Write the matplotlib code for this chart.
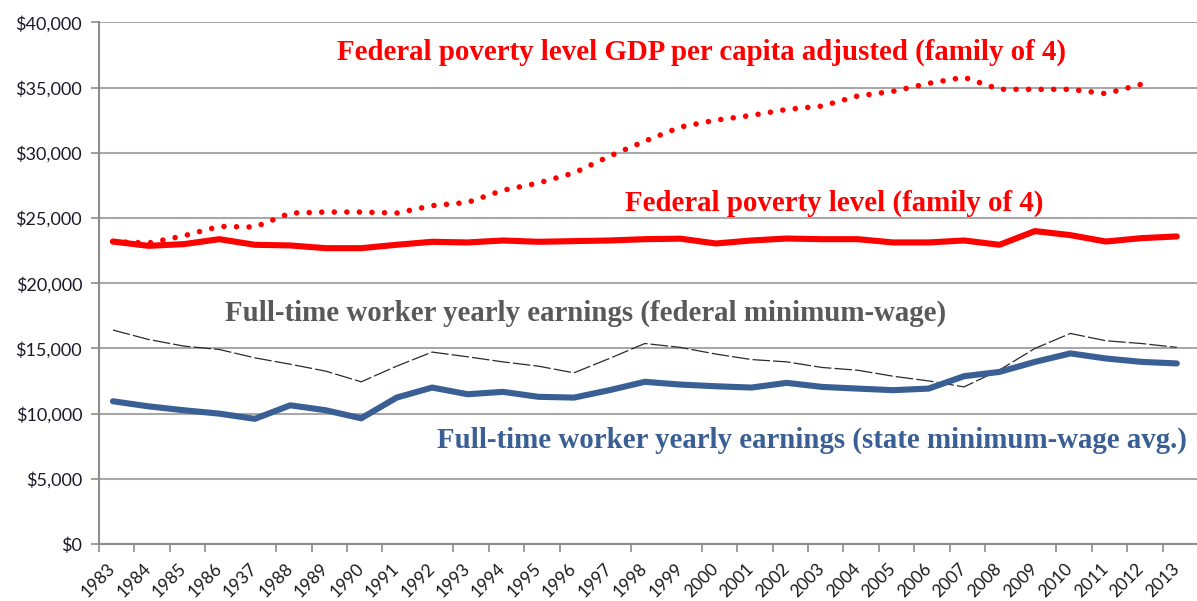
import matplotlib
matplotlib.use('Agg')
import matplotlib.pyplot as plt
from matplotlib.ticker import FuncFormatter, MultipleLocator

years = list(range(1983, 2014))
year_labels = [str(y) for y in years]
year_labels[4] = '1937'  # typo kept from the original chart
years_without_tick = [1987, 1992, 1997, 1999, 2009]

# Federal poverty level (family of 4)
poverty_level = [23200, 22870, 23000, 23380, 22950, 22900, 22690, 22690, 22950, 23180,
                 23130, 23280, 23180, 23230, 23280, 23380, 23420, 23050, 23280, 23430,
                 23380, 23380, 23130, 23130, 23280, 22950, 24000, 23690, 23200, 23460,
                 23590]

# Federal poverty level GDP per capita adjusted (1983-2012)
poverty_gdp_adjusted = [23200, 23080, 23640, 24360, 24310, 25380, 25460, 25460, 25380, 25950,
                        26200, 27130, 27690, 28460, 29740, 30900, 31980, 32510, 32870, 33330,
                        33590, 34360, 34720, 35330, 35800, 34870, 34870, 34870, 34540, 35260]

# Full-time worker yearly earnings, federal minimum wage
federal_min_wage = [16410, 15690, 15180, 14920, 14280, 13790, 13260, 12440, 13640, 14720,
                    14360, 13970, 13640, 13130, 14230, 15380, 15080, 14570, 14150, 13970,
                    13540, 13330, 12870, 12510, 12050, 13350, 15000, 16150, 15590, 15380,
                    15080]

# Full-time worker yearly earnings, state minimum wage average
state_min_wage = [10950, 10560, 10260, 10000, 9600, 10640, 10260, 9640, 11230, 12000,
                  11490, 11670, 11290, 11230, 11800, 12440, 12230, 12100, 12000, 12360,
                  12050, 11920, 11800, 11920, 12870, 13200, 13970, 14620, 14230, 13970,
                  13850]

RED = '#FF0000'
BLUE = '#3A5F95'
GRAY_TEXT = '#595959'
TICK_OFFSET = 0.4

fig = plt.figure(figsize=(11.97, 6.01), dpi=100)
ax = fig.add_axes([0.0825, 0.0948, 0.9175, 0.8678])

ax.plot(years[:len(poverty_gdp_adjusted)], poverty_gdp_adjusted, color=RED, lw=4,
        linestyle=(0, (0.01, 2.25)), dash_capstyle='round', zorder=4)
ax.plot(years, poverty_level, color=RED, lw=4.4, solid_capstyle='round',
        solid_joinstyle='round', zorder=4)
ax.plot(years, federal_min_wage, color='#2b2b2b', lw=0.9,
        linestyle=(0, (14, 2.5)), zorder=3)
ax.plot(years, state_min_wage, color=BLUE, lw=4.4, solid_capstyle='round',
        solid_joinstyle='round', zorder=4)

ax.set_ylim(0, 40000)
ax.set_xlim(years[0] - TICK_OFFSET, years[-1] + 0.57)
ax.yaxis.set_major_locator(MultipleLocator(5000))
ax.yaxis.set_major_formatter(FuncFormatter(lambda v, p: '${:,.0f}'.format(v)))
ax.set_xticks([y - TICK_OFFSET for y in years])
ax.set_xticklabels(year_labels, rotation=45, ha='center', va='top')

ax.grid(axis='y', color='#A8A8A8', lw=1.5)
ax.set_axisbelow(True)
for side in ['top', 'right']:
    ax.spines[side].set_visible(False)
for side in ['left', 'bottom']:
    ax.spines[side].set_color('#8C8C8C')
    ax.spines[side].set_linewidth(1.5)

ax.tick_params(axis='y', length=6, width=1.2, color='#8C8C8C', pad=6,
               labelsize=13, labelcolor='#1a1a2a')
ax.tick_params(axis='x', length=6, width=1.2, color='#8C8C8C', pad=6,
               labelsize=12.5, labelcolor='#1a1a1a')
for lab in ax.get_xticklabels() + ax.get_yticklabels():
    lab.set_family('Lato')
for tick, y in zip(ax.xaxis.get_major_ticks(), years):
    if y in years_without_tick:
        tick.tick1line.set_visible(False)

serif = dict(family='Liberation Serif', weight='bold', fontsize=20.8, va='center')
fig.text(337 / 1197, 1 - 52 / 601, 'Federal poverty level GDP per capita adjusted (family of 4)',
         color=RED, **serif)
fig.text(625 / 1197, 1 - 203 / 601, 'Federal poverty level (family of 4)',
         color=RED, **serif)
fig.text(225 / 1197, 1 - 313 / 601, 'Full-time worker yearly earnings (federal minimum-wage)',
         color=GRAY_TEXT, **serif)
fig.text(437 / 1197, 1 - 440 / 601, 'Full-time worker yearly earnings (state minimum-wage avg.)',
         color=BLUE, **serif)

fig.savefig('out.png', dpi=100)
